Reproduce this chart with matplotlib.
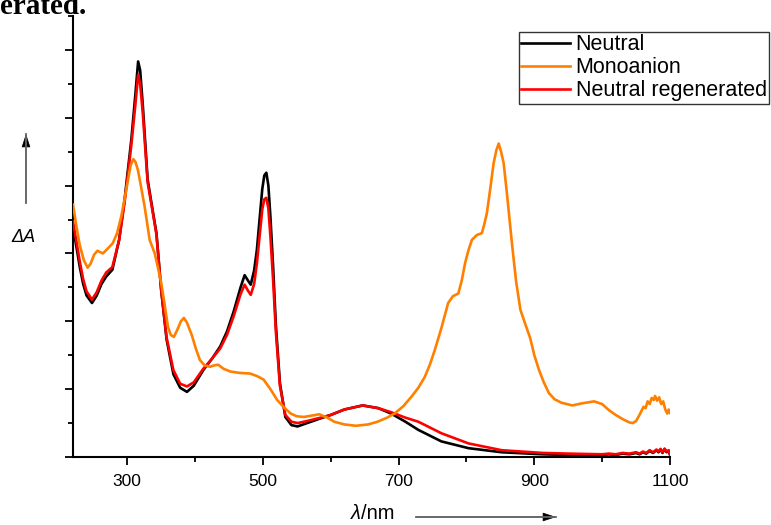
import matplotlib
matplotlib.use("Agg")
import matplotlib.pyplot as plt
from matplotlib.patches import FancyArrowPatch
from matplotlib.lines import Line2D
from matplotlib.ticker import MultipleLocator, NullFormatter

plt.rcParams['font.family'] = ['Liberation Sans', 'DejaVu Sans']

# ---- data ----
wl_neutral = [220, 225, 230, 235, 240, 248, 255, 262, 269, 278, 288, 296, 306, 312, 316, 319,
              323, 330, 338, 343, 350, 358, 368, 378, 388, 398, 412, 425, 437, 447, 457, 467,
              473, 478, 482, 487, 491, 495, 499, 502, 505, 508, 511, 515, 519, 525, 533, 542,
              551, 565, 585, 600, 620, 647, 670, 689, 710, 729, 763, 803, 852, 912, 950, 1000,
              1010, 1020, 1030, 1040, 1050, 1055, 1060, 1065, 1070, 1075, 1080, 1083, 1086,
              1089, 1092, 1095, 1098, 1100]
neutral = [3.39, 3.10, 2.80, 2.55, 2.38, 2.27, 2.38, 2.55, 2.66, 2.76, 3.20, 3.79, 4.68, 5.35,
           5.83, 5.70, 5.17, 4.09, 3.60, 3.30, 2.46, 1.73, 1.22, 1.02, 0.96, 1.05, 1.28, 1.45,
           1.63, 1.85, 2.15, 2.50, 2.68, 2.60, 2.54, 2.75, 3.05, 3.50, 3.95, 4.15, 4.19, 4.00,
           3.54, 2.80, 1.95, 1.09, 0.59, 0.47, 0.45, 0.50, 0.57, 0.62, 0.70, 0.76, 0.72, 0.64,
           0.52, 0.40, 0.23, 0.13, 0.07, 0.04, 0.03, 0.03,
           0.04, 0.03, 0.05, 0.04, 0.06, 0.04, 0.07, 0.05, 0.09, 0.06, 0.10, 0.07, 0.11,
           0.06, 0.12, 0.07, 0.09, 0.03]

wl_regen = wl_neutral
regen = [3.47, 3.18, 2.88, 2.62, 2.44, 2.32, 2.43, 2.60, 2.72, 2.80, 3.20, 3.75, 4.60, 5.20,
         5.63, 5.50, 5.05, 4.05, 3.58, 3.28, 2.46, 1.76, 1.28, 1.08, 1.04, 1.10, 1.30, 1.45,
         1.60, 1.80, 2.08, 2.40, 2.54, 2.45, 2.39, 2.55, 2.85, 3.25, 3.65, 3.80, 3.82, 3.66,
         3.25, 2.60, 1.85, 1.05, 0.62, 0.52, 0.50, 0.53, 0.58, 0.62, 0.70, 0.76, 0.72, 0.66,
         0.58, 0.52, 0.35, 0.20, 0.10, 0.06, 0.05, 0.04,
         0.05, 0.04, 0.06, 0.05, 0.07, 0.05, 0.08, 0.06, 0.10, 0.07, 0.11, 0.08, 0.12,
         0.07, 0.12, 0.08, 0.10, 0.04]

wl_anion = [220, 225, 230, 236, 241.5, 246, 251, 256, 260, 264, 271, 278.6, 285, 291, 296, 301,
            305, 309, 312, 315.7, 320, 325.6, 333, 340.5, 345, 350, 355, 360, 364, 368.7, 374,
            379, 383.5, 388, 395, 401, 407, 414, 422, 428, 434, 442, 452, 465, 481, 492, 501,
            511, 521, 531, 541, 550, 560, 572, 583, 595, 605, 620, 637, 655, 669, 683, 694, 707,
            719, 729, 738.5, 746, 753.4, 763, 773, 780, 788, 793, 798, 803, 808, 815, 822.7,
            826, 830, 835, 840, 844, 847.5, 851, 854.8, 860, 867, 873, 879.5, 887, 894, 900,
            907, 914, 921.6, 930, 940, 956, 970, 988, 1000, 1010, 1020, 1030, 1040, 1045, 1050,
            1055, 1058, 1061, 1064, 1067, 1070, 1073, 1076, 1078, 1081, 1084, 1087, 1090, 1093,
            1096, 1098, 1100]
anion = [3.72, 3.40, 3.12, 2.90, 2.79, 2.85, 2.98, 3.04, 3.02, 3.00, 3.07, 3.15, 3.30, 3.54,
         3.80, 4.08, 4.30, 4.39, 4.35, 4.23, 4.00, 3.69, 3.20, 3.00, 2.80, 2.57, 2.25, 1.92,
         1.80, 1.77, 1.88, 2.00, 2.05, 1.98, 1.80, 1.60, 1.43, 1.35, 1.33, 1.35, 1.36, 1.30,
         1.26, 1.24, 1.23, 1.19, 1.14, 1.00, 0.84, 0.73, 0.64, 0.60, 0.59, 0.61, 0.63, 0.58,
         0.52, 0.48, 0.46, 0.48, 0.52, 0.58, 0.64, 0.75, 0.89, 1.02, 1.18, 1.36, 1.58, 1.90,
         2.27, 2.37, 2.41, 2.60, 2.86, 3.05, 3.20, 3.27, 3.30, 3.42, 3.59, 3.95, 4.33, 4.52,
         4.62, 4.50, 4.33, 3.85, 3.15, 2.60, 2.17, 1.95, 1.75, 1.50, 1.28, 1.10, 0.94, 0.85,
         0.80, 0.76, 0.79, 0.82, 0.78, 0.69, 0.62, 0.56, 0.51, 0.50, 0.53, 0.62, 0.68, 0.74,
         0.72, 0.82, 0.78, 0.87, 0.84, 0.90, 0.83, 0.88, 0.78, 0.82, 0.70, 0.64, 0.70, 0.65]

labels = ["Neutral", "Monoanion", "Neutral regenerated"]
x_ticks = [300, 500, 700, 900, 1100]

W, H = 771, 525
fig = plt.figure(figsize=(W / 100, H / 100), dpi=100)
ax = fig.add_axes([73 / W, 1 - 457 / H, (670 - 73) / W, (457 - 16) / H])

ax.plot(wl_neutral, neutral, color='black', lw=1.9, label=labels[0], zorder=3)
ax.plot(wl_anion, anion, color='#FF8000', lw=1.9, label=labels[1], zorder=4)
ax.plot(wl_regen, regen, color='#FF0000', lw=1.9, label=labels[2], zorder=3.5)

ax.set_xlim(220, 1100)
ax.set_ylim(0, 6.5)
ax.set_xticks(x_ticks)
ax.set_xticklabels([str(t) for t in x_ticks])
ax.xaxis.set_minor_locator(MultipleLocator(100))
ax.yaxis.set_major_locator(MultipleLocator(1))
ax.yaxis.set_minor_locator(MultipleLocator(0.5))
ax.yaxis.set_major_formatter(NullFormatter())
ax.tick_params(which='major', direction='out', length=6, width=1.3, labelsize=12.5, pad=6)
ax.tick_params(which='minor', direction='out', length=3.5, width=1.3)
for s in ['top', 'right']:
    ax.spines[s].set_visible(False)
for s in ['left', 'bottom']:
    ax.spines[s].set_linewidth(1.5)

leg = ax.legend(loc='upper right', bbox_to_anchor=(769 / W, 1 - 32 / H),
                bbox_transform=fig.transFigure, fontsize=15.5, frameon=True, fancybox=False,
                edgecolor='black', borderpad=0.1, labelspacing=0.1, handlelength=2.25,
                handletextpad=0.28, borderaxespad=0)
leg.get_frame().set_linewidth(1.0)
for l in leg.get_lines():
    l.set_linewidth(1.9)


def arrow(x0, y0, x1, y1):
    # gray shaft with a black head, coordinates in pixels from top-left
    fig.add_artist(Line2D([x0 / W, x1 / W], [1 - y0 / H, 1 - y1 / H],
                          transform=fig.transFigure, color='#666666', lw=1.3))
    fig.add_artist(FancyArrowPatch((x0 / W, 1 - y0 / H), (x1 / W, 1 - y1 / H),
                                   transform=fig.transFigure,
                                   arrowstyle='-|>,head_length=0.85,head_width=0.28',
                                   mutation_scale=10, color='black', lw=0.5,
                                   shrinkA=0, shrinkB=0))


fig.text(23 / W, 1 - 238 / H, "ΔA", style='italic', fontsize=13, ha='center', va='center')
arrow(26, 203, 26, 134)
fig.text(361 / W, 1 - 519 / H, "λ", style='italic', fontsize=14.5, ha='right', va='baseline')
fig.text(361 / W, 1 - 519 / H, "/nm", fontsize=14.5, ha='left', va='baseline')
arrow(416, 517, 556, 517)

fig.text(0 / W, 1 - 14 / H, "erated.", family='Liberation Serif', weight='bold',
         fontsize=21, ha='left', va='baseline')

fig.savefig("out.png", dpi=100)
